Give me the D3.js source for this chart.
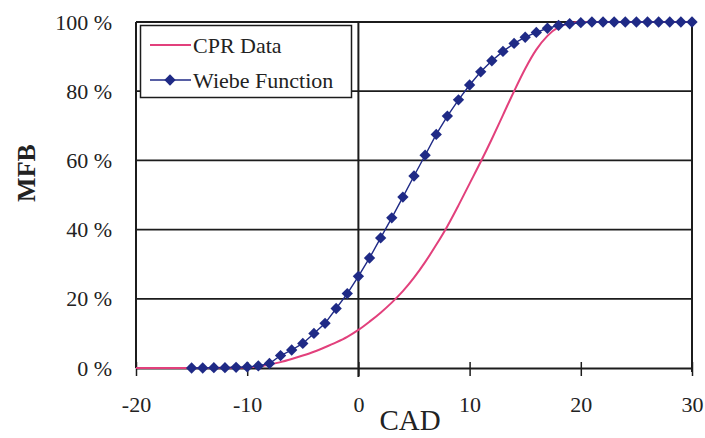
<!DOCTYPE html>
<html>
<head>
<meta charset="utf-8">
<script src="https://cdn.jsdelivr.net/npm/d3@7"></script>
<style>
  html, body { margin: 0; padding: 0; background: #fff; }
  svg { display: block; }
  text { font-family: "Liberation Serif", "DejaVu Serif", serif; fill: #222; }
</style>
</head>
<body>
<svg id="chart" width="705" height="438"></svg>
<script>
// Crank angle (deg) and mass fraction burned (%)
const cprCad = [-20,-19,-18,-17,-16,-15,-14,-13,-12,-11,-10,-9,-8,-7,-6,-5,-4,-3,-2,-1,0,1,2,3,4,5,6,7,8,9,10,11,12,13,14,15,16,17,18,19,20,21,22,23,24,25,26,27,28,29,30];
const cprMfb = [0,0,0,0,0,0,0,0,0.1,0.1,0.2,0.4,1.0,1.7,2.6,3.6,4.7,6.0,7.4,9.0,11.0,13.4,16.0,18.9,22.2,26.1,30.6,35.6,41.0,47.0,53.3,59.6,66.2,73.1,80.0,86.5,92.0,96.0,98.5,99.6,100,100,100,100,100,100,100,100,100,100,100];

const wiebeCad = [-15,-14,-13,-12,-11,-10,-9,-8,-7,-6,-5,-4,-3,-2,-1,0,1,2,3,4,5,6,7,8,9,10,11,12,13,14,15,16,17,18,19,20,21,22,23,24,25,26,27,28,29,30];
const wiebeMfb = [0,0,0.1,0.1,0.2,0.3,0.6,1.3,3.6,5.2,7.1,10.0,12.9,17.2,21.5,26.5,31.8,37.6,43.4,49.4,55.5,61.5,67.5,72.8,77.5,81.8,85.6,88.8,91.5,93.8,95.6,97.0,98.2,99.0,99.5,99.8,100,100,100,100,100,100,100,100,100,100];

const xTicks = [-20, -10, 0, 10, 20, 30];
const yTicks = [0, 20, 40, 60, 80, 100];
const seriesNames = ["CPR Data", "Wiebe Function"];

const pink = "#e2407c";
const navy = "#1f2a86";
const ink = "#1c1c1c";

const svg = d3.select("#chart");
const x = d3.scaleLinear().domain([-20, 30]).range([136, 692]);
const y = d3.scaleLinear().domain([0, 100]).range([368, 22]);

// horizontal gridlines
svg.append("g").selectAll("line").data(yTicks.filter(d => d > 0)).join("line")
  .attr("x1", x(-20)).attr("x2", x(30))
  .attr("y1", d => y(d)).attr("y2", d => y(d))
  .attr("stroke", ink).attr("stroke-width", 1.8);

// frame: left, right, and the vertical line at 0 CAD
svg.append("line").attr("x1", x(-20)).attr("x2", x(-20)).attr("y1", y(100)).attr("y2", y(0))
  .attr("stroke", ink).attr("stroke-width", 2);
svg.append("line").attr("x1", x(30)).attr("x2", x(30)).attr("y1", y(100)).attr("y2", y(0) + 4)
  .attr("stroke", ink).attr("stroke-width", 2);
svg.append("line").attr("x1", x(0)).attr("x2", x(0)).attr("y1", y(100)).attr("y2", y(0) + 9)
  .attr("stroke", ink).attr("stroke-width", 2);

// x axis with ticks crossing the baseline
const xAxis = d3.axisBottom(x).tickValues(xTicks).tickSize(0).tickPadding(28).tickFormat(d => String(d));
const gx = svg.append("g").attr("transform", `translate(0,${y(0)})`).call(xAxis);
gx.select(".domain").attr("stroke", ink).attr("stroke-width", 2);
gx.selectAll(".tick text").attr("font-size", 22).attr("font-family", "Liberation Serif").attr("fill", "#333");
gx.selectAll(".tick").append("line").attr("y1", -6).attr("y2", 8).attr("stroke", ink).attr("stroke-width", 1.5);

// y axis labels
const yAxis = d3.axisLeft(y).tickValues(yTicks).tickSize(0).tickPadding(24).tickFormat(d => `${d} %`);
const gy = svg.append("g").attr("transform", `translate(${x(-20)},0)`).call(yAxis);
gy.select(".domain").remove();
gy.selectAll(".tick text").attr("font-size", 22).attr("font-family", "Liberation Serif").attr("fill", "#333");

// curves
const cpr = cprCad.map((c, i) => [c, cprMfb[i]]);
const wiebe = wiebeCad.map((c, i) => [c, wiebeMfb[i]]);
const smooth = d3.line().x(d => x(d[0])).y(d => y(d[1])).curve(d3.curveMonotoneX);
const straight = d3.line().x(d => x(d[0])).y(d => y(d[1]));

svg.append("path").datum(cpr).attr("d", smooth)
  .attr("fill", "none").attr("stroke", pink).attr("stroke-width", 2);
svg.append("path").datum(wiebe).attr("d", straight)
  .attr("fill", "none").attr("stroke", navy).attr("stroke-width", 1.4);

const diamond = d3.symbol().type(d3.symbolSquare).size(64);
svg.append("g").selectAll("path").data(wiebe).join("path")
  .attr("d", diamond)
  .attr("transform", d => `translate(${x(d[0])},${y(d[1])}) rotate(45)`)
  .attr("fill", navy);

// legend
const lg = svg.append("g");
lg.append("rect").attr("x", 140.5).attr("y", 25.5).attr("width", 211).attr("height", 72)
  .attr("fill", "#fff").attr("stroke", ink).attr("stroke-width", 1.5);
lg.append("line").attr("x1", 150).attr("x2", 191).attr("y1", 45).attr("y2", 45)
  .attr("stroke", pink).attr("stroke-width", 2);
lg.append("line").attr("x1", 150).attr("x2", 191).attr("y1", 80).attr("y2", 80)
  .attr("stroke", navy).attr("stroke-width", 1.4);
lg.append("path").attr("d", diamond).attr("transform", "translate(170,80) rotate(45)").attr("fill", navy);
lg.selectAll("text.lab").data(seriesNames).join("text").attr("class", "lab")
  .attr("x", 193).attr("y", (d, i) => 53 + i * 35)
  .attr("font-size", 22).attr("fill", "#333")
  .text(d => d);

// axis titles
svg.append("text").attr("x", 410).attr("y", 430).attr("text-anchor", "middle")
  .attr("font-size", 29).attr("fill", "#333").text("CAD");
svg.append("text").attr("transform", "translate(35,173) rotate(-90)").attr("text-anchor", "middle")
  .attr("font-size", 26).attr("font-weight", "bold").attr("fill", "#222").text("MFB");
</script>
</body>
</html>
